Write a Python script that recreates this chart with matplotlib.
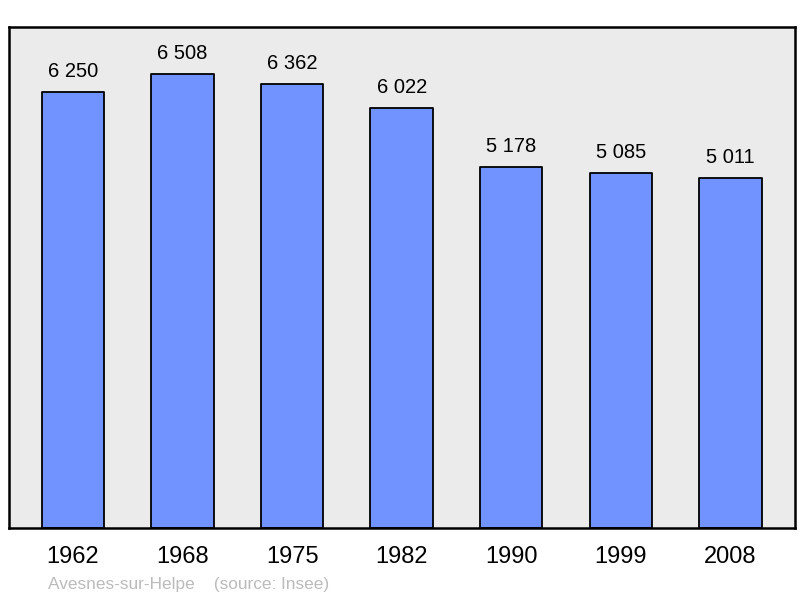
import matplotlib
matplotlib.use("Agg")
import matplotlib.pyplot as plt

plt.rcParams['font.family'] = ['Liberation Sans', 'DejaVu Sans']

annees = ['1962', '1968', '1975', '1982', '1990', '1999', '2008']
population = [6250, 6508, 6362, 6022, 5178, 5085, 5011]
etiquettes = ['6 250', '6 508', '6 362', '6 022', '5 178', '5 085', '5 011']

fig = plt.figure(figsize=(8, 5.98), dpi=100)
ax = fig.add_axes([9/800, 70/598, 786/800, 501/598])
ax.set_facecolor('#ebebeb')

x = range(len(annees))
ax.bar(x, population, width=0.57, color='#7093ff', edgecolor='black',
       linewidth=1.3, joinstyle='round')

for xi, v, t in zip(x, population, etiquettes):
    ax.annotate(t, (xi, v), xytext=(0, 8), textcoords='offset points',
                ha='center', va='bottom', fontsize=14.5)

ax.set_xlim(-0.584, 6.59)
ax.set_ylim(0, 7180)
ax.set_xticks(list(x))
ax.set_xticklabels(annees, fontsize=17)
ax.tick_params(axis='x', length=0, pad=13)
ax.set_yticks([])
for sp in ax.spines.values():
    sp.set_linewidth(1.8)

fig.text(48/800, 1 - 584/598, 'Avesnes-sur-Helpe    (source: Insee)',
         fontsize=12.4, color='#bbbbbb', va='center', ha='left')

fig.savefig('out.png', dpi=100)
